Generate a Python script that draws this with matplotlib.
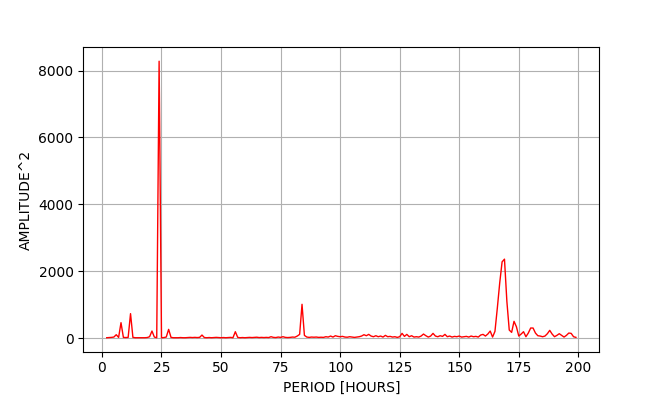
import numpy as np
import matplotlib
matplotlib.use('Agg')
import matplotlib.pyplot as plt

# periods in hours (2 .. 199)
period = np.arange(2, 200)

amp_2_29 = [10, 15, 20, 30, 100, 20, 460, 20, 15, 20, 730, 20, 10, 10,
            10, 10, 10, 15, 40, 210, 30, 10, 8280, 10, 15, 30, 260, 20]
amp_30_59 = [10, 10, 10, 15, 10, 10, 15, 20, 15, 20, 15, 20, 90, 15, 10,
             15, 10, 15, 20, 15, 10, 15, 10, 15, 20, 10, 190, 20, 10, 15]
amp_60_89 = [10, 15, 20, 15, 20, 25, 15, 20, 15, 20, 15, 40, 20, 15, 30,
             20, 40, 20, 15, 20, 30, 25, 60, 110, 1010, 80, 30, 20, 30, 25]
amp_90_119 = [30, 20, 25, 20, 40, 30, 60, 30, 70, 50, 40, 50, 30, 25, 40,
              30, 20, 30, 40, 60, 100, 70, 110, 60, 40, 70, 40, 60, 30, 80]
amp_120_149 = [40, 50, 30, 40, 20, 40, 140, 50, 110, 40, 70, 30, 40, 30, 60,
               120, 70, 30, 60, 140, 60, 40, 70, 50, 110, 40, 60, 30, 50, 40]
amp_150_179 = [60, 30, 40, 50, 30, 60, 40, 50, 30, 90, 110, 60, 120, 210, 30,
               200, 900, 1650, 2280, 2360, 1100, 240, 170, 500, 340, 60, 120, 190, 40, 150]
amp_180_199 = [300, 300, 150, 70, 60, 40, 60, 130, 230, 120, 40, 80, 130, 80,
               30, 80, 150, 140, 40, 20]

amplitude = np.array(amp_2_29 + amp_30_59 + amp_60_89 + amp_90_119
                     + amp_120_149 + amp_150_179 + amp_180_199)

fig = plt.figure(figsize=(6.66, 3.95), dpi=100)
plt.plot(period, amplitude, color='red', linewidth=1)
plt.xlabel('PERIOD [HOURS]')
plt.ylabel('AMPLITUDE^2')
plt.grid(True)
plt.savefig('out.png')
